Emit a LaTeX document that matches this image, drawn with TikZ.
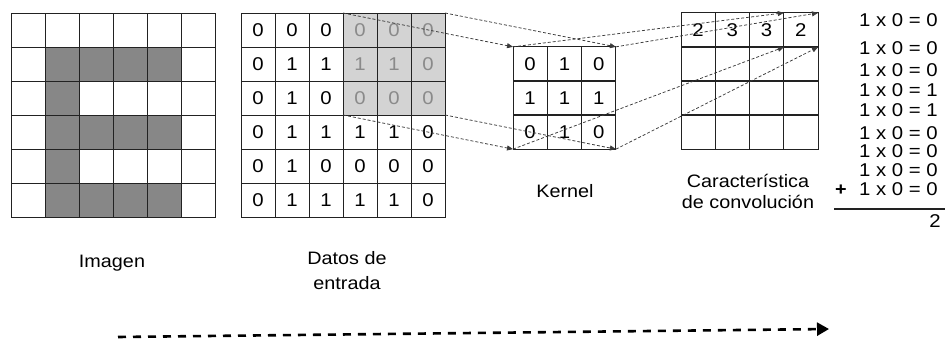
\documentclass[tikz,border=0pt]{standalone}
\usepackage{fontspec}
\setmainfont{Liberation Sans}[FakeStretch=1.1]
\usetikzlibrary{arrows.meta}
\definecolor{ink}{HTML}{222222}
\definecolor{fillE}{HTML}{878787}
\definecolor{winfill}{HTML}{D3D3D3}
\definecolor{wintext}{HTML}{8A8A8A}
\definecolor{conn}{HTML}{3A3A3A}
\begin{document}
\begin{tikzpicture}[x=1pt,y=-1pt,
  cellbox/.style={minimum size=34pt, inner sep=0pt, outer sep=0pt,
    font=\fontsize{18.5}{18.5}\selectfont},
  cellline/.style={draw=ink, line width=0.9pt},
  lbl/.style={inner sep=0pt, font=\fontsize{18}{18}\selectfont},
  eqtext/.style={inner sep=0pt, font=\fontsize{18.5}{18.5}\selectfont},
  link/.style={draw=conn, line width=0.75pt, dash pattern=on 3pt off 2pt,
    -{Triangle[length=6pt,width=5pt]}},
  flow/.style={draw=black, line width=2.6pt, dash pattern=on 8pt off 7pt,
    -{Triangle[length=12pt,width=13pt]}}]
\useasboundingbox (0,0) rectangle (945,339);

% image of the letter E
\foreach \r/\vals in {0/{0,0,0,0,0,0},1/{0,1,1,1,1,0},2/{0,1,0,0,0,0},
                      3/{0,1,1,1,1,0},4/{0,1,0,0,0,0},5/{0,1,1,1,1,0}}{
  \foreach \v [count=\c from 0] in \vals {
    \ifnum\v=1 \def\cf{fillE}\else\def\cf{white}\fi
    \node[cellbox, fill=\cf] (i-\r-\c) at ({11+34*\c+17},{13+34*\r+17}) {};
  }
}
\foreach \r in {0,...,5}{\foreach \c in {0,...,5}{
  \draw[cellline] (i-\r-\c.north west) rectangle (i-\r-\c.south east);
}}

% input data
\foreach \r/\vals in {0/{0,0,0,0,0,0},1/{0,1,1,1,1,0},2/{0,1,0,0,0,0},
                      3/{0,1,1,1,1,0},4/{0,1,0,0,0,0},5/{0,1,1,1,1,0}}{
  \foreach \v [count=\c from 0] in \vals {
    \def\cf{white}\def\tc{black}
    \ifnum\r<3 \ifnum\c>2 \def\cf{winfill}\def\tc{wintext}\fi\fi
    \node[cellbox, fill=\cf, text=\tc] (d-\r-\c) at ({241+34*\c+17},{13+34*\r+17}) {\v};
  }
}
\foreach \r in {0,...,5}{\foreach \c in {0,...,5}{
  \draw[cellline] (d-\r-\c.north west) rectangle (d-\r-\c.south east);
}}

% kernel
\foreach \r/\vals in {0/{0,1,0},1/{1,1,1},2/{0,1,0}}{
  \foreach \v [count=\c from 0] in \vals {
    \node[cellbox, minimum size=34.3pt] (k-\r-\c) at ({513+34.3*\c+17.15},{47+34*\r+17}) {\v};
  }
}
\foreach \r in {0,...,2}{\foreach \c in {0,...,2}{
  \draw[cellline] (k-\r-\c.north west) rectangle (k-\r-\c.south east);
}}

% convolution feature map
\foreach \r in {0,...,3}{\foreach \c in {0,...,3}{
  \node[cellbox, minimum size=34.25pt] (f-\r-\c) at ({681+34.25*\c+17.125},{13+34*\r+17}) {};
  \draw[cellline] (f-\r-\c.north west) rectangle (f-\r-\c.south east);
}}
\foreach \v [count=\c from 0] in {2,3,3,2}{
  \node[cellbox] (fv-\c) at (f-0-\c) {\v};
}

% captions
\node[lbl, anchor=base] (imgLabel) at (112,267) {Imagen};
\node[lbl, anchor=base] (datosA) at (347,264) {Datos de};
\node[lbl, anchor=base] (datosB) at (347,289) {entrada};
\node[lbl, anchor=base] (kernLabel) at (565,198) {Kernel};
\node[lbl, anchor=base] (featA) at (748,188) {Característica};
\node[lbl, anchor=base] (featB) at (748,209) {de convolución};

% products summed for one output cell
\foreach \b/\res [count=\i] in {27/0,55/0,76.5/0,97/1,117/1,140/0,157.5/0,176.5/0,196/0}{
  \node[eqtext, anchor=base east] (eq-\i) at (938,\b) {1 x 0 = \res};
}
\node[eqtext, anchor=base, font=\fontsize{18}{18}\selectfont\bfseries] (plus) at (841,196) {+};
\coordinate (ruleL) at (834,209);
\coordinate (ruleR) at (945,209);
\draw[draw=ink, line width=1.1pt] (ruleL) -- (ruleR);
\node[eqtext, anchor=base east] (sum) at (941,228) {2};

% window to kernel, kernel to output cell
\draw[link] (d-0-3.north west) -- (k-0-0.north west);
\draw[link] (d-0-5.north east) -- (k-0-2.north east);
\draw[link] (d-2-3.south west) -- (k-2-0.south west);
\draw[link] (d-2-5.south east) -- (k-2-2.south east);
\draw[link] (k-0-0.north west) -- (f-0-3.north west);
\draw[link] (k-0-2.north east) -- (f-0-3.north east);
\draw[link] (k-2-0.south west) -- (f-0-3.south west);
\draw[link] (k-2-2.south east) -- (f-0-3.south east);

% sliding direction
\coordinate (flowA) at (118,337);
\coordinate (flowB) at (829,329);
\draw[flow] (flowA) -- (flowB);
\end{tikzpicture}
\end{document}
